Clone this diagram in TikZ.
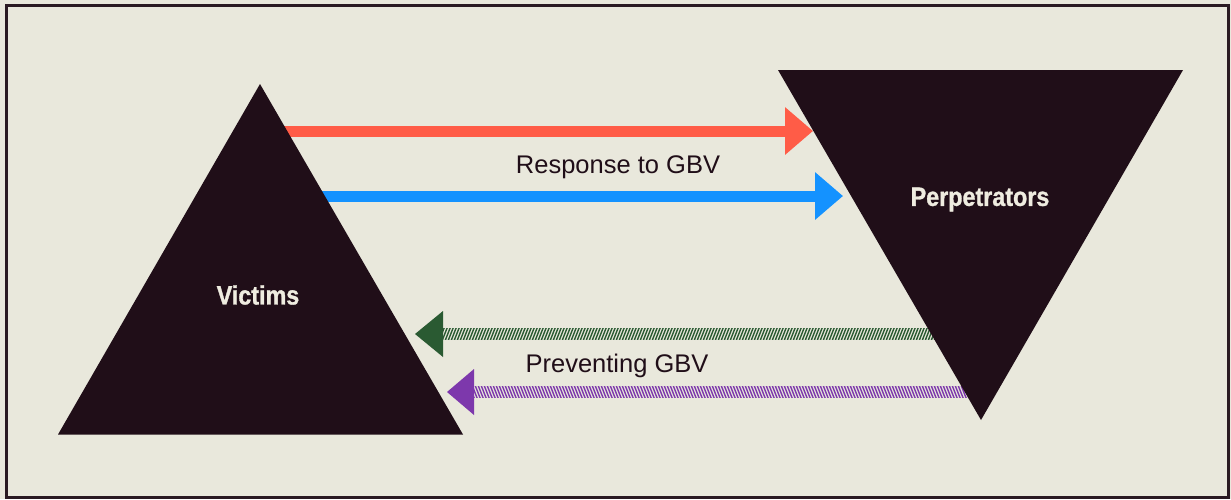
\documentclass[tikz,border=0pt]{standalone}
\usepackage{fontspec}
\setmainfont{Liberation Sans}
\newfontfamily\labfont[FakeStretch=0.88, FakeBold=1.2]{Liberation Sans}
\usetikzlibrary{arrows.meta}
\definecolor{bg}{HTML}{E9E8DC}
\definecolor{ink}{HTML}{200E18}
\definecolor{frame}{HTML}{2A1A22}
\definecolor{txt}{HTML}{EFECE0}
\definecolor{redA}{HTML}{FF5C47}
\definecolor{blueA}{HTML}{1492FF}
\definecolor{greenA}{HTML}{2A5A32}
\definecolor{purpleA}{HTML}{7D38AC}
\tikzset{
  solidarrow/.style={line width=11pt, -{Triangle[length=28pt,width=46pt]}},
  tri/.style={fill=ink, draw=none},
  bigtext/.style={font=\labfont\bfseries\fontsize{26.5}{27}\selectfont, text=txt, inner sep=0pt},
  captext/.style={font=\fontsize{25.5}{26}\selectfont, text=ink, inner sep=0pt}
}
\begin{document}
\begin{tikzpicture}[x=1pt,y=-1pt]
\useasboundingbox (0,0) rectangle (1231,499);
\fill[bg] (0,0) rectangle (1231,499);
\draw[frame, line width=3pt] (6.5,5) rectangle (1228.5,497.5);

% coordinates
\coordinate (r0) at (270,131);
\coordinate (r1) at (813,131);
\coordinate (b0) at (300,196);
\coordinate (b1) at (843,196);
\coordinate (g0) at (945,334);
\coordinate (g1) at (415,334);
\coordinate (p0) at (975,392);
\coordinate (p1) at (447,392);

% solid arrows
\draw[solidarrow, redA] (r0) -- (r1);
\draw[solidarrow, blueA] (b0) -- (b1);

% hatched green arrow
\begin{scope}
\clip (442,328.5) rectangle (g0 |- 0,339.5);
\foreach \x in {436,439,...,950}
  \draw[greenA, line width=1.4pt] (\x,341) -- ++(5.5,-14);
\end{scope}
\fill[greenA] (g1) -- (443,311) -- (443,357) -- cycle;

% hatched purple arrow
\begin{scope}
\clip (472,386.5) rectangle (p0 |- 0,397.5);
\foreach \x in {466,469,...,980}
  \draw[purpleA, line width=1.4pt] (\x,385) -- ++(5.5,14);
\end{scope}
\fill[purpleA] (p1) -- (474,369) -- (474,415) -- cycle;

% triangles
\fill[tri] (260,84) -- (463,434.5) -- (58,434.5) -- cycle;
\fill[tri] (778,70) -- (1183,70) -- (981,420) -- cycle;

% labels
\node[bigtext] (victims) at (258,295) {Victims};
\node[bigtext] (perp) at (980,199.5) {Perpetrators};
\node[captext] (resp) at (618,167) {Response to GBV};
\node[captext] (prev) at (617,366) {Preventing GBV};
\end{tikzpicture}
\end{document}
